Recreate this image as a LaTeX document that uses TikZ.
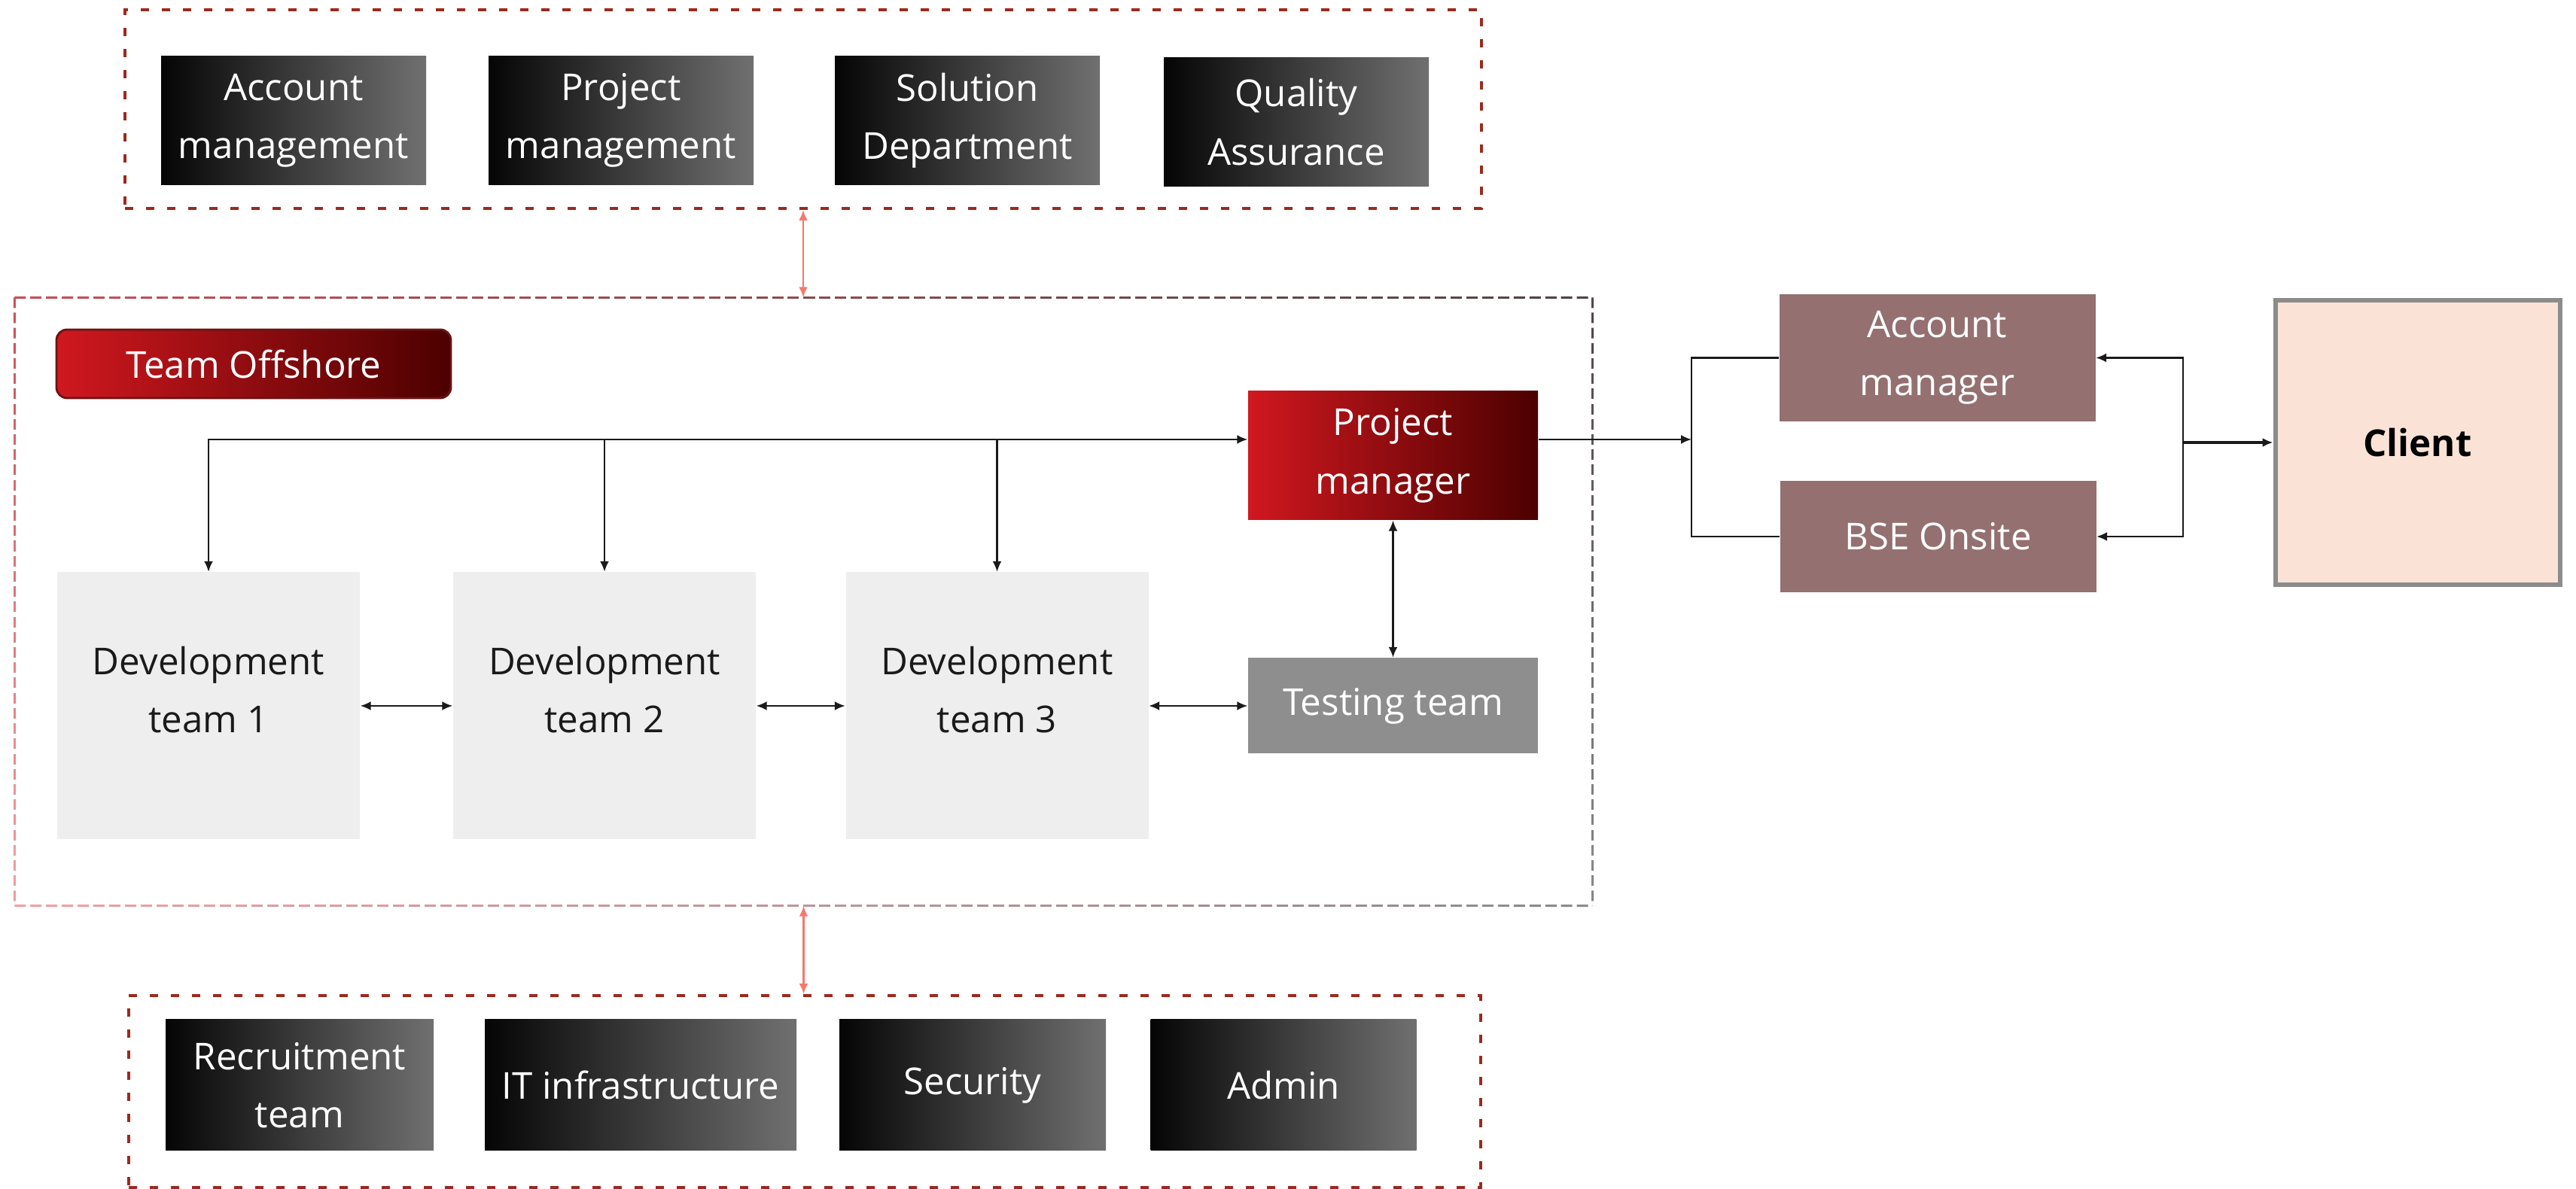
\documentclass[tikz,border=0pt]{standalone}
\usepackage{fontspec}
\usepackage{xcolor}
\usetikzlibrary{arrows.meta,positioning,calc}
\setmainfont{Open Sans}
\definecolor{ink}{HTML}{1A1A1A}
\definecolor{deptL}{HTML}{050505}
\definecolor{deptR}{HTML}{707070}
\definecolor{pmL}{HTML}{D0181F}
\definecolor{pmR}{HTML}{4C0000}
\definecolor{tagline}{HTML}{6A1414}
\definecolor{devfill}{HTML}{EEEEEE}
\definecolor{testfill}{HTML}{8E8E8E}
\definecolor{mauve}{HTML}{947070}
\definecolor{clientfill}{HTML}{FAE3D6}
\definecolor{clientline}{HTML}{8C8C8C}
\definecolor{framered}{HTML}{9B2A1E}
\definecolor{salmon}{HTML}{F4796B}
\definecolor{frNW}{HTML}{C8505A}
\definecolor{frNE}{HTML}{4F4545}
\definecolor{frSW}{HTML}{F0A0A8}
\definecolor{frSE}{HTML}{8A8A8A}
\newcommand{\bodyfont}{\fontsize{14}{22}\selectfont}
\tikzset{
  dept/.style={left color=deptL,right color=deptR,minimum width=3.52cm,minimum height=1.71cm,inner sep=2pt,align=center,text=white,font=\bodyfont},
  groupframe/.style={draw=framered,line width=1.1pt,dash pattern=on 0.11cm off 0.17cm},
  teamtag/.style={draw=tagline,line width=0.8pt,left color=pmL,right color=pmR,rounded corners=4pt,minimum width=5.24cm,minimum height=0.91cm,text=white,font=\bodyfont},
  devbox/.style={fill=devfill,minimum width=4.02cm,minimum height=3.55cm,align=center,text=ink,font=\bodyfont,text depth=0.44cm},
  lead/.style={left color=pmL,right color=pmR,minimum width=3.85cm,minimum height=1.71cm,align=center,text=white,font=\bodyfont},
  testbox/.style={fill=testfill,minimum width=3.85cm,minimum height=1.27cm,text=white,font=\bodyfont},
  onsite/.style={fill=mauve,minimum width=4.2cm,align=center,text=white,font=\bodyfont},
  clientbox/.style={draw=clientline,line width=1.7pt,fill=clientfill,minimum width=3.78cm,minimum height=3.78cm,text=black,font=\bodyfont\bfseries},
  offframe/.style={line width=0.85pt,dash pattern=on 0.15cm off 0.0595cm},
  offframev/.style={line width=0.85pt,dash pattern=on 0.14cm off 0.06175cm},
  plain/.style={line width=0.6pt,draw=ink},
  link/.style={plain,-{Latex[length=1.4mm,width=1.2mm]}},
  twoway/.style={plain,{Latex[length=1.4mm,width=1.2mm]}-{Latex[length=1.4mm,width=1.2mm]}},
  bridge/.style={line width=0.8pt,draw=salmon,{Latex[length=1.4mm,width=1.2mm]}-{Latex[length=1.4mm,width=1.2mm]}}
}

\begin{document}
\begin{tikzpicture}
  \useasboundingbox (0,0) rectangle (34.22,15.80);

  % shared departments above and below
  \node[groupframe,minimum width=18.02cm,minimum height=2.64cm] (topgrp) at (10.67,14.35) {};
  \node[dept] (accmgmt) at (3.90,14.20) {Account\\management};
  \node[dept] (prjmgmt) at (8.25,14.20) {Project\\management};
  \node[dept] (solution) at (12.85,14.20) {Solution\\Department};
  \node[dept] (qa) at (17.22,14.18) {Quality\\Assurance};

  \node[groupframe,minimum width=17.96cm,minimum height=2.55cm] (botgrp) at (10.69,1.295) {};
  \node[dept,minimum width=3.56cm,minimum height=1.74cm] (recruit) at (3.98,1.38) {Recruitment\\team};
  \node[dept,minimum width=4.14cm,minimum height=1.74cm] (infra) at (8.51,1.38) {IT infrastructure};
  \node[dept,minimum width=3.54cm,minimum height=1.74cm] (security) at (12.92,1.38) {Security};
  \node[dept,minimum width=3.53cm,minimum height=1.74cm] (admin) at (17.05,1.38) {Admin};

  % offshore team, frame fades from red to grey
  \node[minimum width=20.95cm,minimum height=8.07cm,inner sep=0pt] (offshore) at (10.675,7.805) {};
  \foreach \i in {0,...,19}{
    \pgfmathtruncatemacro\m{97.5-5*\i}
    \draw[offframe,draw=frNW!\m!frNE] ($(offshore.north west)!{\i/20}!(offshore.north east)$) -- ($(offshore.north west)!{(\i+1)/20}!(offshore.north east)$);
    \draw[offframe,draw=frSW!\m!frSE] ($(offshore.south west)!{\i/20}!(offshore.south east)$) -- ($(offshore.south west)!{(\i+1)/20}!(offshore.south east)$);
  }
  \foreach \i in {0,...,9}{
    \pgfmathtruncatemacro\m{95-10*\i}
    \draw[offframev,draw=frNW!\m!frSW] ($(offshore.north west)!{\i/10}!(offshore.south west)$) -- ($(offshore.north west)!{(\i+1)/10}!(offshore.south west)$);
    \draw[offframev,draw=frNE!\m!frSE] ($(offshore.north east)!{\i/10}!(offshore.south east)$) -- ($(offshore.north east)!{(\i+1)/10}!(offshore.south east)$);
  }
  \draw[bridge] (topgrp.south) -- (topgrp.south |- offshore.north);
  \draw[bridge] (offshore.south) -- (offshore.south |- botgrp.north);

  \node[teamtag] (tag) at (3.37,10.965) {Team Offshore};
  \node[devbox] (dev1) at (2.77,6.42) {Development\\team 1};
  \node[devbox] (dev2) at (8.03,6.42) {Development\\team 2};
  \node[devbox] (dev3) at (13.245,6.42) {Development\\team 3};
  \node[lead] (pm) at (18.505,9.745) {Project\\manager};
  \node[testbox] (test) at (18.505,6.42) {Testing team};

  \coordinate (bus) at (2.77,9.96);
  \draw[twoway] (dev1.north) |- (pm.west |- bus);
  \draw[link] (dev2.north |- bus) -- (dev2.north);
  \draw[link] (dev3.north |- bus) -- (dev3.north);
  \draw[twoway] (pm) -- (test);
  \draw[twoway] (dev1) -- (dev2);
  \draw[twoway] (dev2) -- (dev3);
  \draw[twoway] (dev3) -- (test);

  % onsite side
  \node[onsite,minimum height=1.69cm] (am) at (25.735,11.045) {Account\\manager};
  \node[onsite,minimum height=1.48cm] (bse) at (25.745,8.67) {BSE Onsite};
  \node[clientbox] (client) at (32.115,9.92) {Client};

  \coordinate (lbrk) at (22.47,9.96);
  \coordinate (rbrk) at (29.00,9.92);
  \draw[link] (pm.east |- bus) -- (lbrk);
  \draw[plain] (am.west) -| (lbrk) |- (bse.west);
  \draw[link] (rbrk) |- (am.east);
  \draw[link] (rbrk) |- (bse.east);
  \draw[link,line width=0.9pt] (rbrk) -- (client.west |- rbrk);
\end{tikzpicture}
\end{document}
